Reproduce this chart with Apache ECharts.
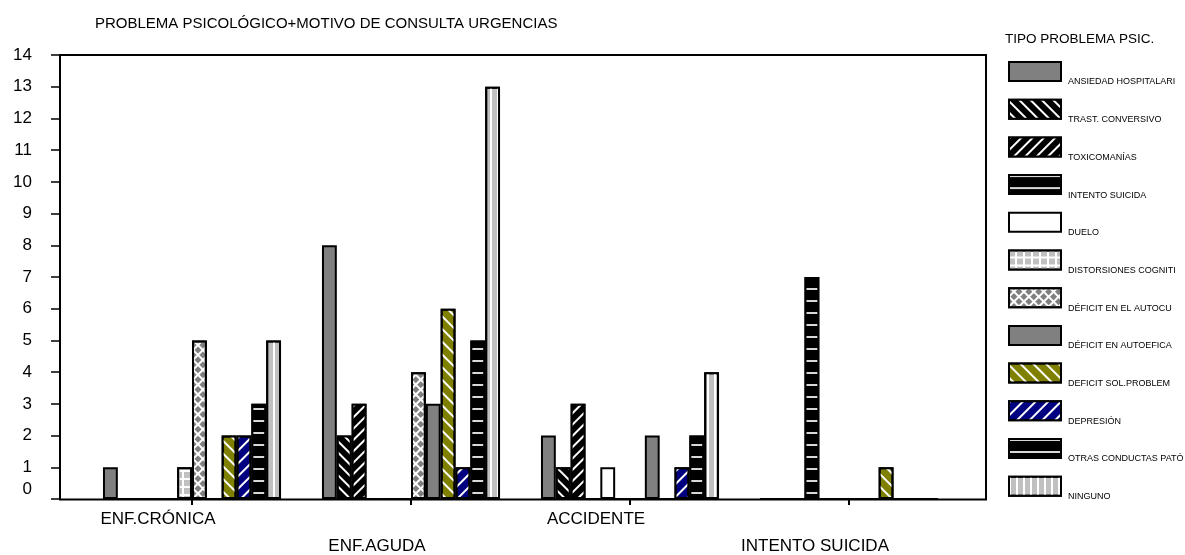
<!DOCTYPE html>
<html>
<head>
<meta charset="utf-8">
<script src="https://cdn.jsdelivr.net/npm/echarts@6/dist/echarts.min.js"></script>
<style>
  html, body { margin: 0; padding: 0; background: #fff; }
  #chart { width: 1185px; height: 555px; }
</style>
</head>
<body>
<div id="chart"></div>
<script>
// Motivo de consulta en urgencias
const categories = ['ENF.CRÓNICA', 'ENF.AGUDA', 'ACCIDENTE', 'INTENTO SUICIDA'];

// Número de casos por tipo de problema psicológico
const ansiedadHospitalaria = [1, 8, 2, 0];
const trastConversivo      = [0, 2, 1, 0];
const toxicomanias         = [0, 3, 3, 0];
const intentoSuicida       = [0, 0, 0, 7];
const duelo                = [0, 0, 1, 0];
const distorsionesCognit   = [1, 0, 0, 0];
const deficitAutocuidado   = [5, 4, 0, 0];
const deficitAutoeficacia  = [0, 3, 2, 0];
const deficitSolProblemas  = [2, 6, 0, 1];
const depresion            = [2, 1, 1, 0];
const otrasConductas       = [3, 5, 2, 0];
const ninguno              = [5, 13, 4, 0];

const yTicks = { min: 0, max: 14, interval: 1 };

const FONT = "'Liberation Sans', Arial, sans-serif";

// Hatching patterns
const stripes = (color, rot, w, gap) => ({
  symbol: 'rect', color: color, dashArrayX: [1, 0], dashArrayY: [w, gap],
  rotation: rot, symbolSize: 1
});
const cells = (color, cell, gap, rot) => ({
  symbol: 'rect', color: color, dashArrayX: [cell, gap], dashArrayY: [cell, gap],
  rotation: rot || 0, symbolSize: 1
});
const vlines = (color, w, gap) => ({
  symbol: 'rect', color: color, dashArrayX: [w, gap], dashArrayY: [1, 0], symbolSize: 1
});

const seriesDefs = [
  { name: 'ANSIEDAD HOSPITALARI', data: ansiedadHospitalaria, color: '#808080' },
  { name: 'TRAST. CONVERSIVO', data: trastConversivo, color: '#000000', decal: stripes('#ffffff', Math.PI / 4, 1.5, 6) },
  { name: 'TOXICOMANÍAS', data: toxicomanias, color: '#000000', decal: stripes('#ffffff', -Math.PI / 4, 1.5, 6) },
  { name: 'INTENTO SUICIDA', data: intentoSuicida, color: '#000000', decal: stripes('#d8d8d8', 0, 1.5, 10) },
  { name: 'DUELO', data: duelo, color: '#ffffff' },
  { name: 'DISTORSIONES COGNITI', data: distorsionesCognit, color: '#ffffff', decal: cells('#c0c0c0', 6, 1.5) },
  { name: 'DÉFICIT EN EL AUTOCU', data: deficitAutocuidado, color: '#ffffff', decal: cells('#808080', 5, 1.5, Math.PI / 4) },
  { name: 'DÉFICIT EN AUTOEFICA', data: deficitAutoeficacia, color: '#808080' },
  { name: 'DEFICIT SOL.PROBLEM', data: deficitSolProblemas, color: '#808000', decal: stripes('#ffffff', Math.PI / 4, 1.5, 7) },
  { name: 'DEPRESIÓN', data: depresion, color: '#000080', decal: stripes('#ffffff', -Math.PI / 4, 1.5, 7) },
  { name: 'OTRAS CONDUCTAS PATÓ', data: otrasConductas, color: '#000000', decal: stripes('#d8d8d8', 0, 1.5, 10) },
  { name: 'NINGUNO', data: ninguno, color: '#c0c0c0', decal: vlines('#ffffff', 1.5, 5) }
];

const series = seriesDefs.map(s => ({
  name: s.name,
  type: 'bar',
  xAxisIndex: 0,
  yAxisIndex: 0,
  data: s.data,
  barGap: '0%',
  barCategoryGap: '18.7%',
  itemStyle: {
    color: s.color,
    borderColor: '#000',
    borderWidth: 2,
    decal: s.decal || null
  },
  emphasis: { disabled: true },
  animation: false
}));

const chart = echarts.init(document.getElementById('chart'), null, { renderer: 'canvas' });
chart.setOption({
  backgroundColor: '#fff',
  animation: false,
  title: [
    {
      text: 'PROBLEMA PSICOLÓGICO+MOTIVO DE CONSULTA URGENCIAS',
      left: 90, top: 11,
      textStyle: { fontFamily: FONT, fontSize: 15, fontWeight: 'normal', color: '#000' }
    },
    {
      text: 'TIPO PROBLEMA PSIC.',
      left: 1000, top: 27,
      textStyle: { fontFamily: FONT, fontSize: 13.5, fontWeight: 'normal', color: '#000' }
    }
  ],
  legend: {
    orient: 'vertical',
    left: 1008,
    top: 61,
    padding: 0,
    itemWidth: 52,
    itemHeight: 19,
    itemGap: 12.2,
    icon: 'rect',
    selectedMode: false,
    formatter: name => '{t|' + name + '}',
    textStyle: {
      fontFamily: FONT, fontSize: 9, color: '#000',
      rich: { t: { fontFamily: FONT, fontSize: 9, color: '#000', padding: [21, 0, 0, 2] } }
    },
    data: seriesDefs.map(s => s.name)
  },
  grid: [
    { left: 82.5, right: 226.5, top: 55, bottom: 55.5, show: false },
    { left: 60, right: 199, top: 55, bottom: 55.5, show: true, borderColor: '#000', borderWidth: 2, backgroundColor: 'transparent', z: 0 }
  ],
  xAxis: [
    {
      type: 'category',
      gridIndex: 0,
      data: categories,
      axisLine: { show: false },
      axisTick: { show: true, alignWithLabel: true, length: 6, lineStyle: { color: '#000', width: 2 } },
      axisLabel: {
        interval: 0,
        margin: 12,
        fontFamily: FONT,
        fontSize: 17,
        color: '#000',
        formatter: (v, i) => (i % 2 === 0 ? '{a|' + v + '}' : '{b|' + v + '}'),
        rich: {
          a: { fontFamily: FONT, fontSize: 17, color: '#000', padding: [0, 68, 0, 0] },
          b: { fontFamily: FONT, fontSize: 17, color: '#000', padding: [27, 68, 0, 0] }
        }
      },
      splitLine: { show: false }
    },
    { type: 'value', gridIndex: 1, show: false }
  ],
  yAxis: [
    {
      type: 'value',
      gridIndex: 0,
      min: yTicks.min,
      max: yTicks.max,
      interval: yTicks.interval,
      offset: 22.5,
      axisLine: { show: true, lineStyle: { color: '#000', width: 2 } },
      axisTick: { show: true, length: 9, lineStyle: { color: '#000', width: 1.5 } },
      axisLabel: {
        margin: 28,
        fontFamily: FONT,
        fontSize: 17,
        color: '#000',
        formatter: v => (v === 0 ? '{z|0}' : String(v)),
        rich: { z: { fontFamily: FONT, fontSize: 17, color: '#000', padding: [0, 0, 20, 0] } }
      },
      splitLine: { show: false }
    },
    { type: 'value', gridIndex: 1, show: false }
  ],
  series: series
});
</script>
</body>
</html>
